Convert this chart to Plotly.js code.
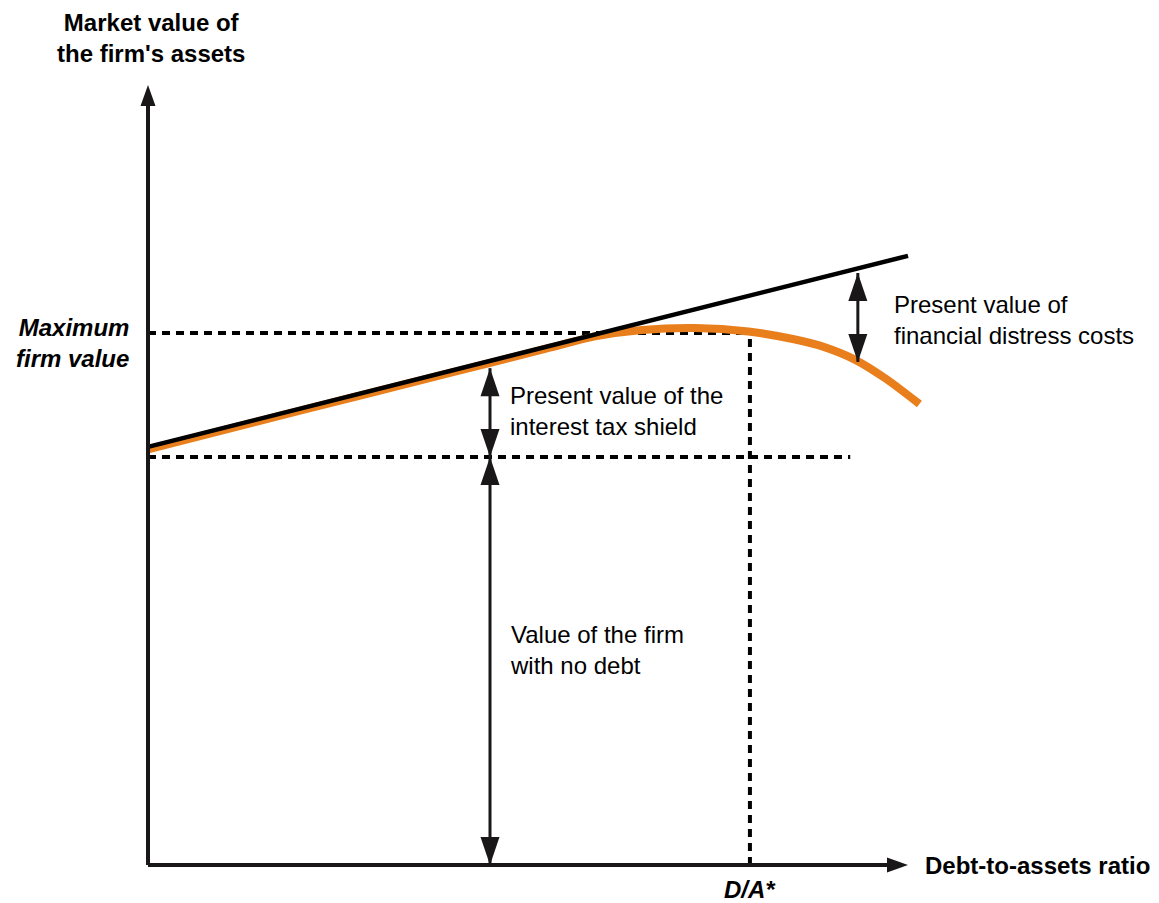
<!DOCTYPE html>
<html><head><meta charset="utf-8">
<script src="https://cdn.plot.ly/plotly-3.0.1.min.js"></script>
<style>html,body{margin:0;padding:0;background:#fff}#chart{width:1159px;height:903px}</style>
</head><body><div id="chart"></div>
<script>
// Conceptual trade-off theory chart (arbitrary units)
// x: debt-to-assets ratio, y: market value of the firm's assets
const taxShieldLineX = [0, 10];
const taxShieldLineY = [5.36, 7.81];          // value with interest tax shield (black)
const firmValueX = [0, 2, 4, 5.2, 5.9, 6.5, 7.2, 7.9, 8.5, 8.9, 9.3, 9.7, 10.15];
const firmValueY = [5.33, 5.825, 6.315, 6.61, 6.78, 6.86, 6.885, 6.84, 6.74, 6.64, 6.48, 6.24, 5.91]; // orange
const maxFirmValue = 6.82;
const noDebtValue = 5.23;
const optimalRatio = 7.92;
const noDebtLineEnd = 9.24;
const taxShieldArrowX = 4.5;
const taxShieldArrowTop = 6.37;
const distressArrowX = 9.34;
const distressArrowTop = 7.59;
const distressArrowBottom = 6.45;
const axisEndX = 10;
const axisEndY = 10;

const labels = {
  yTitle: "Market value of<br>the firm's assets",
  xTitle: "Debt-to-assets ratio",
  maxValue: "<i>Maximum<br>firm value</i>",
  optimal: "<i>D/A*</i>",
  taxShield: "Present value of the<br>interest tax shield",
  distress: "Present value of<br>financial distress costs",
  noDebt: "Value of the firm<br>with no debt"
};

// pixel <-> data scale helpers (plot fills the whole figure)
const W = 1159, H = 903;
const xRange = [-148 / 76, (W - 148) / 76];
const yRange = [-(H - 865) / 78, 865 / 78];
const pxX = 1 / 76, pxY = 1 / 78;

const INK = '#000000';
const ORANGE = '#E97F1C';

function head(x, y, dir, len, halfW) {
  let p;
  if (dir === 'up') {
    p = [[x, y], [x - halfW * pxX, y - len * pxY], [x + halfW * pxX, y - len * pxY]];
  } else if (dir === 'down') {
    p = [[x, y], [x - halfW * pxX, y + len * pxY], [x + halfW * pxX, y + len * pxY]];
  } else {
    p = [[x, y], [x - len * pxX, y + halfW * pxY], [x - len * pxX, y - halfW * pxY]];
  }
  return {
    type: 'path', xref: 'x', yref: 'y', layer: 'above',
    path: 'M' + p.map(q => q[0] + ',' + q[1]).join(' L') + ' Z',
    fillcolor: '#1a1718', line: {width: 0}
  };
}
function seg(x0, y0, x1, y1, w, dash, layer, color) {
  return {type: 'line', xref: 'x', yref: 'y', x0, y0, x1, y1, layer: layer || 'above',
          line: {color: color || '#1a1718', width: w, dash: dash || 'solid'}};
}

const AH = 28, AW = 9.5;  // annotation arrow head
const XH = 21, XW = 7.5;  // axis arrow head
const dash = '8px,6px';

const shapes = [
  seg(0, maxFirmValue, optimalRatio, maxFirmValue, 4, dash, 'below', INK),
  seg(0, noDebtValue, noDebtLineEnd, noDebtValue, 4, dash, 'below', INK),
  seg(optimalRatio, 0, optimalRatio, maxFirmValue, 4, dash, 'below', INK),
  seg(0, 0, 0, axisEndY - (XH - 2) * pxY, 4),
  seg(0, 0, axisEndX - (XH - 2) * pxX, 0, 4),
  head(0, axisEndY, 'up', XH, XW),
  head(axisEndX, 0, 'right', XH, XW),
  seg(taxShieldArrowX, noDebtValue, taxShieldArrowX, taxShieldArrowTop, 3),
  head(taxShieldArrowX, taxShieldArrowTop, 'up', AH, AW),
  head(taxShieldArrowX, noDebtValue, 'down', AH, AW),
  seg(taxShieldArrowX, 0, taxShieldArrowX, noDebtValue, 3),
  head(taxShieldArrowX, noDebtValue, 'up', AH, AW),
  head(taxShieldArrowX, 0, 'down', AH, AW),
  seg(distressArrowX, distressArrowBottom, distressArrowX, distressArrowTop, 3),
  head(distressArrowX, distressArrowTop, 'up', AH, AW),
  head(distressArrowX, distressArrowBottom, 'down', AH, AW)
];

const F = 'Liberation Sans, Arial, Helvetica, sans-serif';
function txt(text, x, y, xanchor, bold, align) {
  return {text: bold ? '<b>' + text + '</b>' : text, x, y, xref: 'x', yref: 'y',
          showarrow: false, xanchor, yanchor: 'middle', align: align || xanchor,
          font: {family: F, size: 24, color: '#000'}};
}
const annotations = [
  txt(labels.yTitle, 0.04, 10.60, 'center', true, 'center'),
  txt(labels.maxValue, -0.22, 6.69, 'right', true, 'right'),
  txt(labels.taxShield, 4.74, 5.82, 'left', false),
  txt(labels.distress, 9.79, 6.99, 'left', false),
  txt(labels.noDebt, 4.74, 2.76, 'left', false),
  txt(labels.optimal, optimalRatio, -0.31, 'center', true),
  txt(labels.xTitle, 10.20, 0, 'left', true)
];

const traces = [
  {x: firmValueX, y: firmValueY, type: 'scatter', mode: 'lines',
   line: {color: ORANGE, width: 8, shape: 'spline', smoothing: 0.8}, hoverinfo: 'skip'},
  {x: taxShieldLineX, y: taxShieldLineY, type: 'scatter', mode: 'lines',
   line: {color: '#000', width: 4.5}, hoverinfo: 'skip'}
];

const layout = {
  width: W, height: H, margin: {l: 0, r: 0, t: 0, b: 0},
  paper_bgcolor: '#fff', plot_bgcolor: '#fff', showlegend: false,
  xaxis: {range: xRange, visible: false, fixedrange: true},
  yaxis: {range: yRange, visible: false, fixedrange: true},
  shapes, annotations
};
Plotly.newPlot('chart', traces, layout, {staticPlot: true, displayModeBar: false});
</script>
</body></html>
